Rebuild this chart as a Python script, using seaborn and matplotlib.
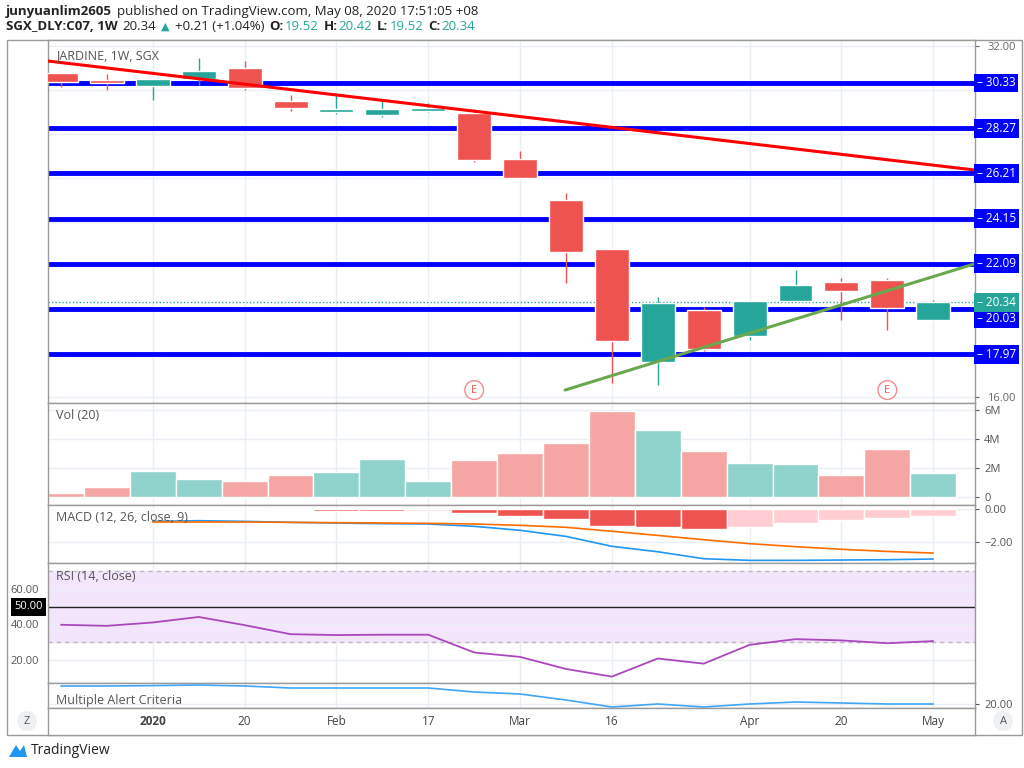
import numpy as np
import pandas as pd
import seaborn as sns
import matplotlib.pyplot as plt
from matplotlib.patches import Rectangle, Polygon

# weekly candles, JARDINE (SGX: C07)
opens = [30.79, 30.42, 30.20, 30.50, 31.01, 29.51, 29.01, 28.87, 29.05, 28.96,
         26.86, 25.00, 22.76, 17.60, 19.98, 18.80, 20.40, 21.26, 21.35, 19.52]
highs = [30.80, 30.74, 30.50, 31.47, 31.33, 29.78, 29.87, 29.60, 29.42, 29.14,
         27.23, 25.31, 22.76, 20.57, 20.10, 20.40, 21.80, 21.44, 21.44, 20.42]
lows = [30.15, 30.01, 29.55, 30.24, 30.00, 29.05, 28.92, 28.78, 29.00, 26.73,
        26.00, 21.21, 16.65, 16.56, 18.10, 18.60, 20.40, 19.52, 19.07, 19.52]
closes = [30.38, 30.33, 30.50, 30.88, 30.10, 29.19, 29.14, 29.14, 29.14, 26.82,
          26.00, 22.62, 18.57, 20.30, 18.20, 20.39, 21.10, 20.85, 20.07, 20.34]
volume_m = [0.31, 0.70, 1.82, 1.21, 1.08, 1.55, 1.75, 2.61, 1.08, 2.56,
            3.01, 3.73, 5.95, 4.65, 3.19, 2.36, 2.31, 1.53, 3.33, 1.66]
macd_hist = [0.0, 0.0, 0.02, 0.05, 0.02, -0.05, -0.10, -0.15, -0.15, -0.24,
             -0.40, -0.63, -1.03, -1.09, -1.19, -1.07, -0.83, -0.67, -0.55, -0.40]
macd_line = [None, None, -0.75, -0.71, -0.75, -0.81, -0.85, -0.89, -0.91, -1.05,
             -1.29, -1.66, -2.26, -2.59, -3.01, -3.11, -3.11, -3.09, -3.07, -3.03]
signal_line = [None, None, -0.79, -0.79, -0.79, -0.81, -0.83, -0.85, -0.87, -0.91,
               -0.99, -1.11, -1.35, -1.60, -1.86, -2.10, -2.28, -2.44, -2.57, -2.67]
rsi = [39.8, 39.2, 41.1, 44.2, 39.6, 34.5, 34.0, 34.2, 34.2, 24.2,
       21.7, 14.9, 10.6, 20.8, 17.9, 28.5, 31.7, 31.0, 29.4, 30.6]
alert = [29.0, 29.0, 29.2, 29.5, 29.0, 28.0, 28.0, 28.0, 28.0, 26.0,
         25.0, 22.0, 18.5, 20.0, 18.5, 20.0, 21.0, 20.5, 20.0, 20.0]
levels = [30.33, 28.27, 26.21, 24.15, 22.09, 20.03, 17.97]
last_price = 20.34
down_trend = ([-0.28, 19.91], [31.33, 26.36])
up_trend = ([10.98, 19.91], [16.33, 22.09])
earnings_idx = [9, 18]
xtick_pos = [2, 4, 6, 8, 10, 12, 15, 17, 19]
xtick_labels = ['2020', '20', 'Feb', '17', 'Mar', '16', 'Apr', '20', 'May']

RED, TEAL = '#EF5350', '#26A69A'
GRID = '#e9eff5'
FRAME = '#9a9a9a'

sns.set_style('white')
plt.rcParams['font.family'] = 'Open Sans'
fig = plt.figure(figsize=(10.24, 7.68), dpi=100)
W, H = 1024, 768


def add_pane(top, bottom, left=48, right=975, grid=True):
    ax = fig.add_axes([left / W, 1 - bottom / H, (right - left) / W, (bottom - top) / H])
    ax.set_xlim(-0.283, 19.91)
    ax.set_xticks([])
    for s in ax.spines.values():
        s.set_color(FRAME)
        s.set_linewidth(1)
    if grid:
        for p in xtick_pos:
            ax.axvline(p, color=GRID, lw=1, zorder=0)
    return ax


x = np.arange(len(opens))
df = pd.DataFrame({'x': x, 'macd': macd_line, 'signal': signal_line, 'rsi': rsi, 'alert': alert})

# ---- price pane
ax = add_pane(40, 403)
ax.set_ylim(15.74, 32.29)
for v in range(16, 33, 2):
    ax.axhline(v, color=GRID, lw=1, zorder=0)
for lv in levels:
    ax.axhline(lv, color='#0000ff', lw=3.5, zorder=2)
ax.axhline(last_price, color=TEAL, lw=1, ls=(0, (1, 1.5)), zorder=2)
up = np.array(closes) >= np.array(opens)
cols = [TEAL if u else RED for u in up]
ax.vlines(x, lows, highs, colors=cols, lw=1, zorder=3)
bottoms = np.minimum(opens, closes)
heights = np.maximum(np.abs(np.array(closes) - np.array(opens)), 0.12)
ax.bar(x, heights, bottom=bottoms, width=0.74, color=cols, zorder=4)
sns.lineplot(x=down_trend[0], y=down_trend[1], ax=ax, color='#ff0000', lw=2.2, zorder=5)
sns.lineplot(x=up_trend[0], y=up_trend[1], ax=ax, color='#6aa84f', lw=2.2, zorder=5)
for i in earnings_idx:
    ax.text(i, 16.33, 'E', color=RED, ha='center', va='center', fontsize=8,
            bbox=dict(boxstyle='circle,pad=0.35', fc='white', ec='#f28b8b', lw=1), zorder=6)
ax.text(0.009, 0.958, 'JARDINE, 1W, SGX', transform=ax.transAxes, fontsize=9, color='#555',
        va='center', zorder=7)
ax.yaxis.tick_right()
ax.set_yticks([16, 32])
ax.set_yticklabels(['16.00', '32.00'])
ax.tick_params(axis='y', colors='#666', labelsize=8, length=3, pad=6)
label_pos = {20.03: 19.61}
for lv in levels:
    ax.text(1.002, label_pos.get(lv, lv), f'– {lv:.2f}', transform=ax.get_yaxis_transform(),
            va='center', ha='left', fontsize=8.5, color='white', clip_on=False, zorder=10,
            bbox=dict(boxstyle='square,pad=0.25', fc='#0000ff', ec='none'))
ax.text(1.002, last_price, f'– {last_price:.2f}', transform=ax.get_yaxis_transform(), va='center',
        ha='left', fontsize=8.5, color='white', clip_on=False, zorder=10,
        bbox=dict(boxstyle='square,pad=0.25', fc=TEAL, ec='none'))

# ---- volume pane
ax = add_pane(403, 505)
ax.set_ylim(-0.55, 6.48)
for v in [0, 2, 4, 6]:
    ax.axhline(v, color=GRID, lw=1, zorder=0)
vcols = ['#8fd3cc' if u else '#f5a6a4' for u in up]
ax.bar(x, volume_m, width=1.0, color=vcols, edgecolor='white', lw=1, zorder=2)
ax.yaxis.tick_right()
ax.set_yticks([0, 2, 4, 6])
ax.set_yticklabels(['0', '2M', '4M', '6M'])
ax.tick_params(axis='y', colors='#555', labelsize=8, length=3)
ax.text(0.009, 0.84, 'Vol (20)', transform=ax.transAxes, fontsize=9, color='#555')

# ---- MACD pane
ax = add_pane(505, 563)
ax.set_ylim(-3.27, 0.24)
for v in [0, -2]:
    ax.axhline(v, color=GRID, lw=1, zorder=0)
hcols = []
for i, h in enumerate(macd_hist):
    prev = macd_hist[i - 1] if i else 0
    if h >= 0:
        hcols.append(TEAL if h > prev else '#b2dfdb')
    else:
        hcols.append(RED if h < prev else '#ffcdd2')
ax.bar(x, macd_hist, width=1.0, color=hcols, edgecolor='white', lw=1, zorder=2)
sns.lineplot(data=df, x='x', y='macd', ax=ax, color='#2196F3', lw=1.2, zorder=3)
sns.lineplot(data=df, x='x', y='signal', ax=ax, color='#FF6D00', lw=1.2, zorder=3)
ax.set_xlabel('')
ax.set_ylabel('')
ax.yaxis.tick_right()
ax.set_yticks([0, -2])
ax.set_yticklabels(['0.00', '−2.00'])
ax.tick_params(axis='y', colors='#555', labelsize=8, length=3)
ax.text(0.009, 0.72, 'MACD (12, 26, close, 9)', transform=ax.transAxes, fontsize=9, color='#555')

# ---- RSI pane
ax = add_pane(563, 683)
ax.set_ylim(7.0, 74.6)
ax.axhspan(30, 70, color='#f3e5fc', zorder=0)
for v in [20, 40, 60]:
    ax.axhline(v, color=GRID, lw=1, zorder=0)
ax.axhline(70, color='#bbb', lw=1, ls=(0, (3, 3)))
ax.axhline(30, color='#bbb', lw=1, ls=(0, (3, 3)))
ax.axhline(50, color='#222', lw=1)
sns.lineplot(data=df, x='x', y='rsi', ax=ax, color='#AB47BC', lw=1.3, zorder=3)
ax.set_xlabel('')
ax.set_ylabel('')
ax.set_yticks([20, 40, 60])
ax.set_yticklabels(['20.00', '40.00', '60.00'])
ax.tick_params(axis='y', colors='#555', labelsize=8, length=3)
ax.text(-0.006, 50, '50.00', transform=ax.get_yaxis_transform(), ha='right', va='center',
        fontsize=8, color='white', bbox=dict(boxstyle='square,pad=0.3', fc='black', ec='none'))
ax.text(0.009, 0.86, 'RSI (14, close)', transform=ax.transAxes, fontsize=9, color='#555')

# ---- alert pane
ax = add_pane(683, 708)
ax.set_ylim(18.0, 30.5)
ax.axhline(20, color=GRID, lw=1, zorder=0)
sns.lineplot(data=df, x='x', y='alert', ax=ax, color='#42A5F5', lw=1.2, zorder=3)
ax.set_xlabel('')
ax.set_ylabel('')
ax.yaxis.tick_right()
ax.set_yticks([20])
ax.set_yticklabels(['20.00'])
ax.tick_params(axis='y', colors='#555', labelsize=8, length=3)
ax.text(0.009, 0.16, 'Multiple Alert Criteria', transform=ax.transAxes, fontsize=9, color='#555')

# ---- time axis
ax = add_pane(708, 735, grid=False)
ax.set_ylim(0, 1)
ax.set_yticks([])
for p, lab in zip(xtick_pos, xtick_labels):
    ax.text(p, 0.5, lab, ha='center', va='center', fontsize=8.5, color='#444',
            fontweight='bold' if lab == '2020' else 'normal')

# outer frame, side strips
frame = fig.add_axes([0, 0, 1, 1], facecolor='none', zorder=-1)
frame.set_xlim(0, W)
frame.set_ylim(H, 0)
frame.axis('off')
frame.add_patch(Rectangle((7, 40), 1015, 695, fill=False, ec=FRAME, lw=1))
for cx, lab in [(27, 'Z'), (1003, 'A')]:
    frame.text(cx, 721, lab, ha='center', va='center', fontsize=8, color='#555',
               bbox=dict(boxstyle='circle,pad=0.4', fc='#eef0f3', ec='none'))

# header, laid out piece by piece
renderer = fig.canvas.get_renderer()


def write_line(pieces, y, x0=6):
    px = x0
    for t, c, w in pieces:
        if t == ' ':
            px += 4
            continue
        fam = 'DejaVu Sans' if t == '▲' else 'Open Sans'
        txt = fig.text(px / W, 1 - y / H, t, fontsize=9.5 if t != '▲' else 8, color=c,
                       fontweight=w, va='center', family=fam)
        px += txt.get_window_extent(renderer).width + 1


write_line([('junyuanlim2605', '#222', 'bold'), (' ', None, None),
            ('published on TradingView.com, May 08, 2020 17:51:05 +08', '#222', 'normal')], 12)
write_line([('SGX_DLY:C07, 1W', '#222', 'bold'), (' ', None, None), ('20.34', '#222', 'normal'),
            (' ', None, None), ('▲', TEAL, 'normal'), (' ', None, None),
            ('+0.21 (+1.04%)', '#222', 'normal'), (' ', None, None),
            ('O:', '#222', 'bold'), ('19.52', TEAL, 'normal'), (' ', None, None),
            ('H:', '#222', 'bold'), ('20.42', TEAL, 'normal'), (' ', None, None),
            ('L:', '#222', 'bold'), ('19.52', TEAL, 'normal'), (' ', None, None),
            ('C:', '#222', 'bold'), ('20.34', TEAL, 'normal')], 27)

# footer logo
frame.add_patch(Polygon([(9, 757), (16, 745), (20, 751), (24, 745), (27, 757)],
                        closed=True, fc='#2196F3', ec='none'))
fig.text(31 / W, 1 - 751 / H, 'TradingView', fontsize=10, color='#222', va='center')

fig.savefig('out.png', dpi=100)
